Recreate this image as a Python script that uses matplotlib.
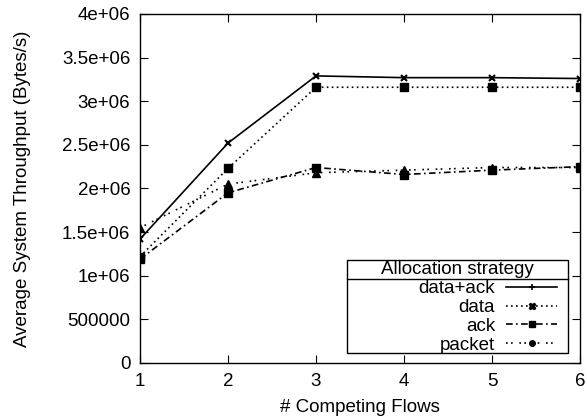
import matplotlib
matplotlib.use("Agg")
import matplotlib.pyplot as plt
from matplotlib.lines import Line2D
from matplotlib.patches import Rectangle

plt.rcParams['font.family'] = ['Liberation Sans', 'DejaVu Sans']

flows = [1, 2, 3, 4, 5, 6]
data_ack = [1.42e6, 2.52e6, 3.29e6, 3.27e6, 3.27e6, 3.26e6]
data = [1.22e6, 2.23e6, 3.16e6, 3.16e6, 3.16e6, 3.16e6]
ack = [1.19e6, 1.95e6, 2.24e6, 2.16e6, 2.21e6, 2.25e6]
packet = [1.55e6, 2.05e6, 2.18e6, 2.21e6, 2.24e6, 2.24e6]
labels = ['data+ack', 'data', 'ack', 'packet']
legend_title = 'Allocation strategy'

yticks = [0, 500000, 1e6, 1.5e6, 2e6, 2.5e6, 3e6, 3.5e6, 4e6]
yticklabels = ['0', '500000', '1e+06', '1.5e+06', '2e+06', '2.5e+06', '3e+06', '3.5e+06', '4e+06']

FS = 13.5
ls_data = (0, (1, 2))
ls_ack = (0, (4, 2, 1, 2))
ls_packet = (0, (1, 2, 1, 4))

fig = plt.figure(figsize=(5.87, 4.19), dpi=100)
ax = fig.add_axes([0.2385, 0.1337, 0.7495, 0.833])

ax.plot(flows, data_ack, color='black', lw=1.2, ls='-', marker='x', ms=4, mew=1.5)
ax.plot(flows, data, color='black', lw=1.2, ls=ls_data, marker='s', ms=6)
ax.plot(flows, ack, color='black', lw=1.2, ls=ls_ack, marker='s', ms=5.5)
ax.plot(flows, packet, color='black', lw=1.2, ls=ls_packet, marker='^', ms=6)

ax.set_xlim(1, 6)
ax.set_ylim(0, 4e6)
ax.set_xticks(flows)
ax.set_yticks(yticks)
ax.set_yticklabels(yticklabels)
ax.tick_params(direction='in', top=True, right=True, labelsize=FS, length=6, pad=7)
for s in ax.spines.values():
    s.set_linewidth(1.0)
ax.set_xlabel('# Competing Flows', fontsize=FS, labelpad=7)
ax.set_ylabel('Average System Throughput (Bytes/s)', fontsize=FS, labelpad=22)

handles = [
    Line2D([], [], color='black', lw=1.2, ls='-', marker='+', ms=5, mew=1.2),
    Line2D([], [], color='black', lw=1.2, ls=ls_data, marker='X', ms=5),
    Line2D([], [], color='black', lw=1.2, ls=ls_ack, marker='s', ms=4.5),
    Line2D([], [], color='black', lw=1.2, ls=ls_packet, marker='o', ms=4),
]
leg = ax.legend(handles, labels, loc='lower right', bbox_to_anchor=(0.952, 0.021),
                markerfirst=False, frameon=False,
                fontsize=FS, handlelength=2.7, labelspacing=0.09,
                borderpad=0.1, borderaxespad=0, handletextpad=0.6)
for t in leg.get_texts():
    t.set_ha('right')
leg._legend_box.align = 'right'

# legend frame with title separator
ax.add_patch(Rectangle((0.470, 0.0287), 0.503, 0.2663, transform=ax.transAxes,
                       fill=False, edgecolor='black', lw=1.0, clip_on=False, zorder=5))
ax.add_line(Line2D([0.470, 0.973], [0.2407, 0.2407], transform=ax.transAxes,
                   color='black', lw=1.0, clip_on=False, zorder=5))
ax.text(0.7216, 0.2665, legend_title, transform=ax.transAxes, ha='center', va='center',
        fontsize=FS)

fig.savefig('out.png', dpi=100)
